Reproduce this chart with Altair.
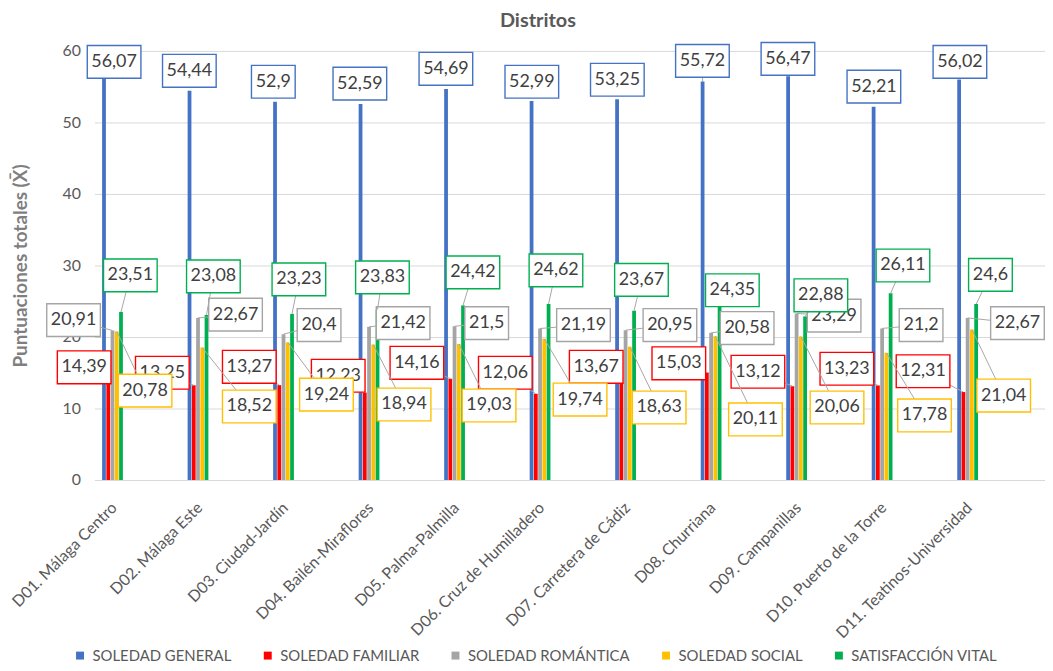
import math
import altair as alt
import pandas as pd

districts = [
    "D01. Málaga Centro", "D02. Málaga Este", "D03. Ciudad-Jardín",
    "D04. Bailén-Miraflores", "D05. Palma-Palmilla", "D06. Cruz de Humilladero",
    "D07. Carretera de Cádiz", "D08. Churriana", "D09. Campanillas",
    "D10. Puerto de la Torre", "D11. Teatinos-Universidad",
]
series_names = ["SOLEDAD GENERAL", "SOLEDAD FAMILIAR", "SOLEDAD ROMÁNTICA",
                "SOLEDAD SOCIAL", "SATISFACCIÓN VITAL"]
colors = ["#4472C4", "#FF0000", "#A5A5A5", "#FFC000", "#00B050"]

soledad_general = [56.07, 54.44, 52.9, 52.59, 54.69, 52.99, 53.25, 55.72, 56.47, 52.21, 56.02]
soledad_familiar = [14.39, 13.25, 13.27, 12.23, 14.16, 12.06, 13.67, 15.03, 13.12, 13.23, 12.31]
soledad_romantica = [20.91, 22.67, 20.4, 21.42, 21.5, 21.19, 20.95, 20.58, 23.29, 21.2, 22.67]
soledad_social = [20.78, 18.52, 19.24, 18.94, 19.03, 19.74, 18.63, 20.11, 20.06, 17.78, 21.04]
satisfaccion_vital = [23.51, 23.08, 23.23, 23.83, 24.42, 24.62, 23.67, 24.35, 22.88, 26.11, 24.6]
all_values = [soledad_general, soledad_familiar, soledad_romantica, soledad_social, satisfaccion_vital]

# callout placement (offset inside category band, value units)
label_dx = [
    [0.172, 0.052, 0.034, 0.046, 0.052, 0.057, 0.057, 0.052, 0.052, 0.057, 0.063],
    [-0.178, -0.264, -0.247, -0.207, -0.287, -0.253, -0.190, -0.224, -0.299, -0.259, -0.368],
    [-0.302, 0.592, 0.569, 0.552, 0.529, 0.661, 0.672, 0.575, 0.592, 0.609, 0.736],
    [0.534, 0.753, 0.655, 0.563, 0.557, 0.621, 0.546, 0.672, 0.626, 0.649, 0.575],
    [0.362, 0.333, 0.333, 0.310, 0.368, 0.339, 0.339, 0.402, 0.437, 0.397, 0.420],
]
label_y = [
    [58.47, 57.22, 55.69, 55.42, 57.5, 55.69, 55.97, 58.61, 58.89, 55.0, 58.47],
    [15.76, 15.0, 15.83, 14.58, 16.39, 15.0, 15.83, 16.32, 15.14, 15.56, 15.21],
    [22.36, 23.13, 21.67, 21.94, 21.94, 21.67, 21.67, 21.25, 22.99, 21.67, 21.94],
    [12.5, 10.28, 11.94, 10.56, 10.42, 11.25, 10.14, 8.47, 10.14, 9.03, 11.81],
    [28.61, 28.47, 28.06, 28.33, 29.03, 29.31, 27.99, 26.53, 25.83, 30.0, 28.68],
]

W, H = 957, 432
XMAX, YMAX = 11, 60
PXX, PXY = W / XMAX, H / YMAX
BAR_START, BAR_STEP = 0.054, 0.0497
BOX_H = 33

font = "Lato"
xscale = alt.Scale(domain=[0, XMAX], nice=False, zero=False)
yscale = alt.Scale(domain=[0, YMAX], nice=False)

names_js = "[" + ",".join("'" + d + "'" for d in districts) + "]"
xaxis = alt.Axis(values=[k + 0.17 for k in range(len(districts))],
                 labelExpr=names_js + "[floor(datum.value)]",
                 labelAngle=-45, labelAlign="right", labelBaseline="middle",
                 labelPadding=25, ticks=False, domain=False, grid=False,
                 labelFontSize=16, labelFont=font, labelColor="#595959",
                 labelOverlap=False, labelFlush=False, labelBound=False,
                 labelLimit=400, title=None)
yaxis = alt.Axis(values=list(range(0, 61, 10)), grid=True, gridColor="#D9D9D9",
                 domain=False, ticks=False, labelPadding=14, labelFontSize=16,
                 labelFont=font, labelColor="#595959",
                 title="Puntuaciones totales (X̄)", titleFont=font, titleFontSize=19,
                 titleFontWeight="bold", titleColor="#7F7F7F", titlePadding=32)

X = alt.X("x:Q", scale=xscale, axis=xaxis)
Y = alt.Y("y:Q", scale=yscale, axis=yaxis)

bar_rows = []
for s, name in enumerate(series_names):
    for k, d in enumerate(districts):
        bar_rows.append({"district": d, "series": name,
                         "x": k + BAR_START + BAR_STEP * s, "y": all_values[s][k]})
bars_df = pd.DataFrame(bar_rows)

bars = alt.Chart(bars_df).mark_bar(size=3.8, orient="vertical").encode(
    x=X,
    y=alt.Y("y:Q", scale=yscale, axis=yaxis, stack=False),
    color=alt.Color("series:N", scale=alt.Scale(domain=series_names, range=colors),
                    sort=series_names,
                    legend=alt.Legend(orient="none", legendX=-22, legendY=601,
                                      direction="horizontal", symbolType="square",
                                      symbolSize=64, symbolStrokeWidth=0,
                                      labelFontSize=15, labelFont=font,
                                      labelColor="#595959", columnPadding=28,
                                      labelOffset=5, labelLimit=400, title=None)),
)

layers = [bars]
for s, name in enumerate(series_names):
    lab_rows, line_rows = [], []
    for k in range(len(districts)):
        v = all_values[s][k]
        txt = str(v).replace(".", ",")
        bw = 10 * len(txt) + 4
        hw, hh = bw / 2, BOX_H / 2
        cx, cy = k + label_dx[s][k], label_y[s][k]
        tx, ty = k + BAR_START + BAR_STEP * s, v
        path = f"M{-hw},{-hh}L{hw},{-hh}L{hw},{hh}L{-hw},{hh}Z"
        lab_rows.append({"x": cx, "y": cy, "text": txt, "path": path})
        dxp, dyp = (tx - cx) * PXX, (ty - cy) * PXY
        if abs(dxp) <= hw and abs(dyp) <= hh:
            continue
        t = min(hw / abs(dxp) if dxp else math.inf, hh / abs(dyp) if dyp else math.inf)
        if (1 - t) * math.hypot(dxp, dyp) < 4:
            continue
        line_rows.append({"x": cx + t * (tx - cx), "y": cy + t * (ty - cy), "x2": tx, "y2": ty})
    if line_rows:
        layers.append(alt.Chart(pd.DataFrame(line_rows)).mark_rule(
            color="#A6A6A6", strokeWidth=1).encode(x=X, y=Y, x2="x2:Q", y2="y2:Q"))
    ldf = pd.DataFrame(lab_rows)
    layers.append(alt.Chart(ldf).mark_point(filled=True, fill="white", stroke=colors[s],
                                            strokeWidth=1.4, opacity=1).encode(
        x=X, y=Y, shape=alt.Shape("path:N", scale=None), size=alt.value(4)))
    layers.append(alt.Chart(ldf).mark_text(font=font, fontSize=18, color="#404040",
                                           align="center", baseline="middle").encode(
        x=X, y=Y, text="text:N"))

chart = alt.layer(*layers).properties(
    width=W, height=H,
    title=alt.TitleParams("Distritos", fontSize=20, font=font, fontWeight="bold",
                          color="#595959", dx=-32, offset=9, anchor="middle"),
    autosize=alt.AutoSizeParams(type="none"),
    padding={"left": 87, "top": 41, "right": 0, "bottom": 182},
).configure_view(strokeWidth=0)

chart.save("out.html", embed_options={"renderer": "svg", "actions": False})
